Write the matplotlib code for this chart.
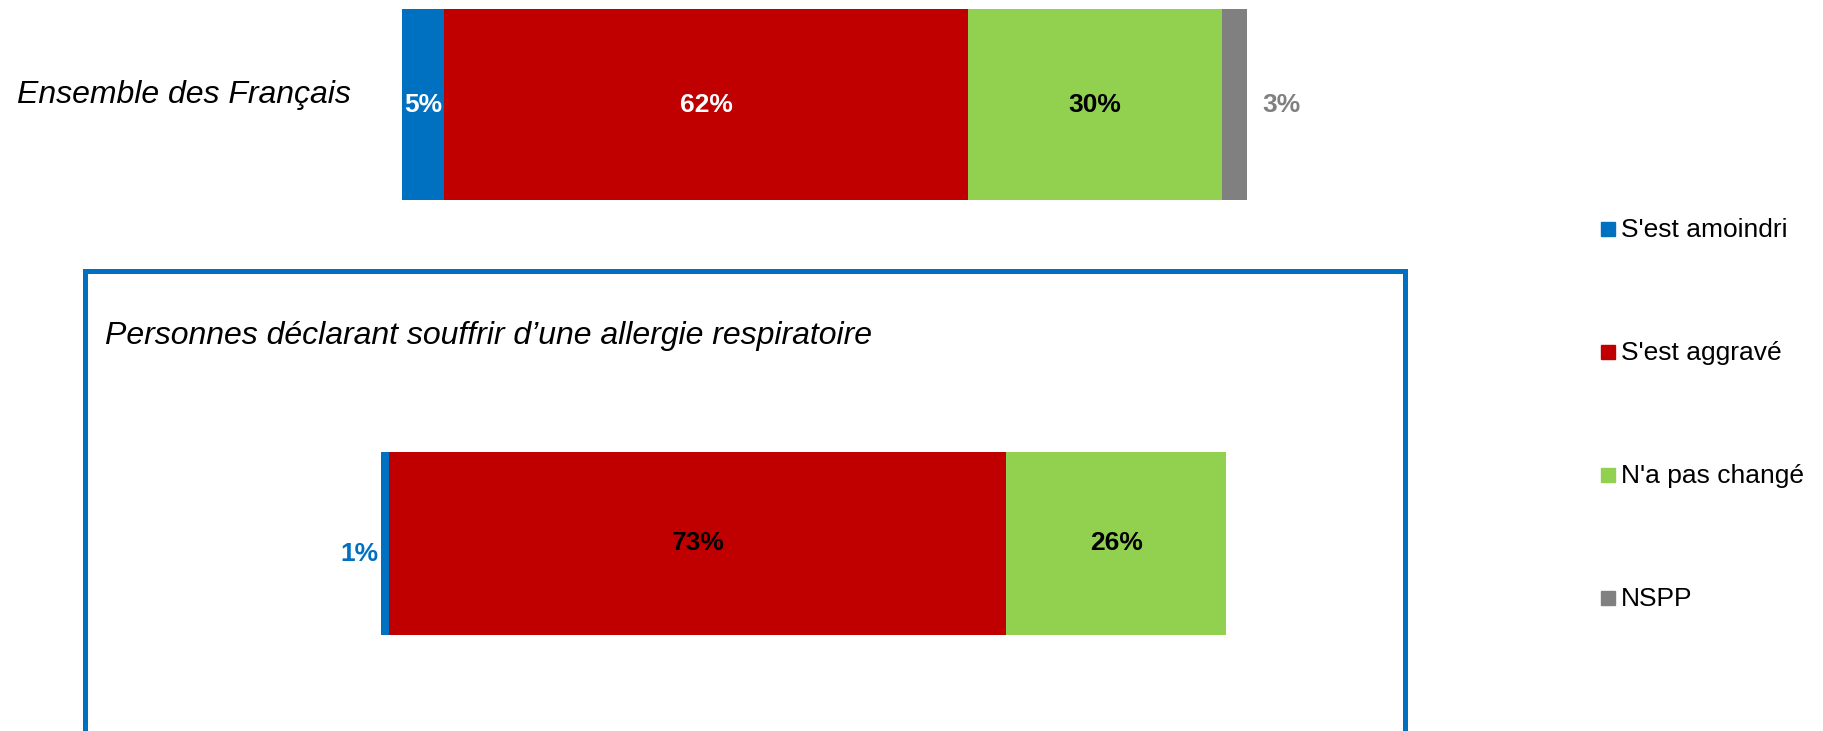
import matplotlib
matplotlib.use("Agg")
import matplotlib.pyplot as plt
from matplotlib.patches import Rectangle

plt.rcParams['font.family'] = ['Liberation Sans', 'DejaVu Sans']

categories = ["S'est amoindri", "S'est aggravé", "N'a pas changé", "NSPP"]
colors = ["#0070C0", "#C00000", "#92D050", "#808080"]
ensemble_values = [5, 62, 30, 3]
allergie_values = [1, 73, 26, 0]
ensemble_title = "Ensemble des Français"
allergie_title = "Personnes déclarant souffrir d\u2019une allergie respiratoire"
ensemble_label_colors = ["white", "white", "black", "#808080"]
allergie_label_colors = ["#0070C0", "black", "black", None]

W, H = 1823, 731
fig = plt.figure(figsize=(W / 100, H / 100), dpi=100)


def ax_px(x0, y0, x1, y1):
    return fig.add_axes([x0 / W, 1 - y1 / H, (x1 - x0) / W, (y1 - y0) / H])


def draw_bar(ax, values, label_colors, outside_left=None, outside_right=None):
    left = 0
    for i, (v, c) in enumerate(zip(values, colors)):
        if v <= 0:
            left += v
            continue
        ax.barh(0, v, left=left, color=c, height=1.0, edgecolor='none')
        lc = label_colors[i]
        if i == outside_left:
            ax.text(left - 0.3, -0.06, f"{v}%", ha='right', va='center',
                    color=lc, fontsize=19, fontweight='bold')
        elif i == outside_right:
            ax.text(left + v + 1.8, 0, f"{v}%", ha='left', va='center',
                    color=lc, fontsize=19, fontweight='bold')
        else:
            ax.text(left + v / 2, 0, f"{v}%", ha='center', va='center',
                    color=lc, fontsize=19, fontweight='bold')
        left += v
    ax.set_xlim(0, 100)
    ax.set_ylim(-0.5, 0.5)
    ax.axis('off')


# Top bar
ax1 = ax_px(402, 9, 1247, 200)
draw_bar(ax1, ensemble_values, ensemble_label_colors, outside_right=3)
fig.text(17 / W, 1 - 95 / H, ensemble_title, fontsize=23, style='italic',
         ha='left', va='center')

# Box around second group
fig.patches.append(Rectangle((84.5 / W, -0.05), (1405 - 84.5) / W,
                             1.05 - 271.5 / H, transform=fig.transFigure,
                             fill=False, edgecolor="#0070C0", linewidth=3.6))

# Bottom bar
ax2 = ax_px(381, 452, 1226, 635)
draw_bar(ax2, allergie_values, allergie_label_colors, outside_left=0)
fig.text(105 / W, 1 - 336 / H, allergie_title, fontsize=23, style='italic',
         ha='left', va='center')

# Legend
leg_y = [229, 352, 475, 598]
for name, c, y in zip(categories, colors, leg_y):
    fig.patches.append(Rectangle((1601 / W, 1 - (y + 7) / H), 14 / W, 14 / H,
                                 transform=fig.transFigure, color=c))
    fig.text(1621 / W, 1 - (y + 1) / H, name, fontsize=19, ha='left', va='center')

fig.savefig("out.png", dpi=100)
